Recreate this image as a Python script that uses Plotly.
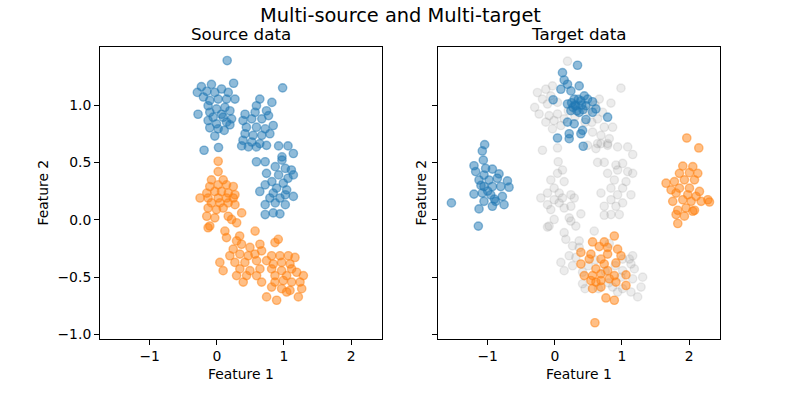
import plotly.graph_objects as go

# ---------------- data ----------------
src_blue_x = [0.154, 0.25, 0.98,
    -0.23, -0.08, -0.29, -0.15, -0.03, 0.07, 0.17, -0.20, -0.105, 0.02, 0.145, 0.27,
    -0.13, -0.005, 0.12, -0.28, -0.105, 0.07, 0.195, -0.055, 0.095, 0.22, -0.13, -0.005,
    0.145, -0.105, 0.02, 0.11, 0.195, -0.03,
    0.64, 0.82, 0.59, 0.74, 0.42, 0.57, 0.77, 0.39, 0.52, 0.67, 0.84, 0.44, 0.59, 0.72,
    0.42, 0.54, 0.67, 0.79, 0.39, 0.52, 0.64, 0.74, 0.47, 0.59, 0.92, 1.06, 1.14, 0.97,
    0.37, -0.19, 0.025,
    0.59, 0.72, 0.97, 0.87, 1.02, 1.11, 0.74, 0.92, 1.06, 1.14, 0.82, 0.99, 0.72, 0.89,
    1.04, 0.64, 0.84, 1.02, 1.14, 0.79, 0.94, 0.72, 0.87, 1.02, 0.84, 0.72, 0.94]
src_blue_y = [1.388, 1.19, 1.15,
    1.16, 1.18, 1.11, 1.12, 1.11, 1.14, 1.11, 1.07, 1.04, 1.052, 1.052, 1.052,
    0.994, 0.966, 0.98, 0.92, 0.937, 0.92, 0.95, 0.894, 0.894, 0.88, 0.865, 0.836,
    0.851, 0.802, 0.793, 0.779, 0.828, 0.73,
    1.052, 1.023, 0.994, 0.95, 0.92, 0.937, 0.908, 0.865, 0.88, 0.88, 0.822, 0.807, 0.807, 0.793,
    0.75, 0.736, 0.736, 0.75, 0.693, 0.678, 0.664, 0.649, 0.635, 0.635, 0.644, 0.644, 0.578, 0.549,
    0.644, 0.606, 0.63,
    0.506, 0.506, 0.52, 0.463, 0.448, 0.434, 0.405, 0.391, 0.362, 0.391, 0.333, 0.319, 0.305, 0.276,
    0.261, 0.247, 0.233, 0.218, 0.204, 0.19, 0.19, 0.132, 0.147, 0.132, 0.06, 0.046, 0.052]

src_orange_x = [0.02, 0.02, -0.08, 0.095, -0.105, 0.02, 0.145, 0.245, -0.15, -0.03, 0.07, 0.17,
    0.27, -0.25, -0.13, 0.02, 0.145, 0.245, -0.08, 0.045, 0.17, 0.27, -0.13, -0.005, 0.095,
    0.37, -0.15, -0.03, 0.17, 0.22, 0.295, -0.105, -0.13, 0.12, 0.57, 0.34,
    0.144, 0.915, 0.866, 0.294, 0.368, 0.244, 0.493, 0.642, 0.667, 0.194, 0.343, 0.468, 0.567,
    0.816, 0.94, 1.065, 1.164, 0.045, 0.269, 0.418, 0.592, 0.741, 0.841, 0.965, 1.09, 0.094,
    0.343, 0.493, 0.642, 0.816, 0.965, 1.114, 0.294, 0.443, 0.592, 0.866, 1.04, 1.189, 1.289,
    0.393, 0.667, 0.866, 0.99, 1.114, 1.239, 0.816, 0.965, 1.09, 1.264, 0.741, 0.891, 1.04, 1.214]
src_orange_y = [0.51, 0.42, 0.348, 0.348, 0.29, 0.305, 0.305, 0.29, 0.233, 0.247, 0.247, 0.233,
    0.218, 0.19, 0.19, 0.19, 0.19, 0.19, 0.147, 0.147, 0.147, 0.132, 0.103, 0.089, 0.103,
    0.06, 0.031, 0.017, 0.031, 0.003, -0.026, -0.054, -0.069, -0.098, -0.098, -0.141,
    -0.155, -0.17, -0.198, -0.184, -0.213, -0.256, -0.241, -0.213, -0.27, -0.313, -0.299, -0.313, -0.299,
    -0.313, -0.313, -0.313, -0.328, -0.371, -0.371, -0.371, -0.356, -0.356, -0.385, -0.371, -0.385, -0.443,
    -0.428, -0.443, -0.428, -0.428, -0.443, -0.428, -0.486, -0.486, -0.486, -0.486, -0.486, -0.457, -0.486,
    -0.543, -0.543, -0.543, -0.529, -0.543, -0.543, -0.586, -0.6, -0.615, -0.6, -0.672, -0.701, -0.629, -0.672]

tgt_grey_x = [0.189, 0.985, -0.259, -0.134, -0.035, -0.184, -0.06, -0.109, 0.04, -0.234, -0.085,
    0.04, -0.01, -0.134, 0.09, -0.035, 0.139, 0.662, 0.836, 0.711, 0.637, 0.736, 0.861, 0.562,
    0.687, 0.811, 0.637, 0.786, 0.935, 1.085, 1.16, -0.184, 0.04, 0.488, 0.612,
    0.687, 0.786, 0.637, 0.736, 0.05, 0.91, 1.01, 0.04, 0.114, 0.786, 0.935, 1.085, 1.16,
    -0.06, 0.139, 0.886, 1.06, -0.01, 0.836, 1.01, 0.687, -0.109, 0.065, 0.239, 0.935, 1.134,
    -0.209, -0.01, 0.114, 0.289, 0.836, 1.01, -0.109, 0.065, 0.239, 0.736, 0.91, -0.06, 0.139,
    0.388, 0.736, 0.836, 0.96, -0.01, 0.214, -0.109, 0.239, 0.139, 0.363, 0.811,
    -0.085, 0.313, 0.164, 0.587, 0.264, 0.363, 0.214, 0.313, 0.09, 0.139, 0.264, 0.413,
    1.159, 1.01, 1.134, 1.184, 1.308, 1.01, 1.159, 1.284, 1.01, 1.134, 1.234, 0.935, 0.413,
    0.985, 0.861, 1.11,
    0.3, 0.45, 0.5, 0.2, 0.55, 0.6, -0.3, 0.6, 0.75, 0.5, 0.8, 0.65, 0.9, 0.45]
tgt_grey_y = [1.382, 1.147, 1.109, 1.138, 1.167, 1.052, 1.08, 1.009, 1.023, 0.922, 0.908,
    0.922, 0.865, 0.851, 0.822, 0.793, 0.879, 1.052, 1.017, 0.937, 0.879, 0.807, 0.807, 0.764,
    0.736, 0.707, 0.664, 0.649, 0.635, 0.635, 0.569, 0.606, 0.626, 0.649, 0.621,
    0.664, 0.664, 0.5, 0.5, 0.506, 0.477, 0.491, 0.405, 0.434, 0.405, 0.434, 0.42, 0.405,
    0.347, 0.333, 0.347, 0.333, 0.276, 0.276, 0.276, 0.233, 0.233, 0.233, 0.218, 0.218, 0.218,
    0.19, 0.175, 0.19, 0.19, 0.175, 0.147, 0.132, 0.147, 0.118, 0.118, 0.118, 0.089, 0.103,
    0.052, 0.04, 0.046, 0.046, 0.003, 0.017, -0.063, -0.011, -0.112, -0.184, -0.207,
    -0.055, -0.055, -0.17, -0.098, -0.227, -0.241, -0.313, -0.328, -0.371, -0.443, -0.4, -0.457,
    -0.313, -0.342, -0.385, -0.428, -0.5, -0.443, -0.514, -0.586, -0.6, -0.629, -0.672, -0.629, -0.557,
    -0.5, -0.586, -0.342,
    0.9, 0.85, 0.95, 0.95, 0.85, 1.0, 0.98, -0.35, -0.45, -0.4, -0.55, -0.6, -0.4, -0.6]

tgt_blue_x = [0.338, 0.114, 0.139, 0.189, 0.363, 0.09, 0.239, 0.438, 0.289, 0.388, 0.488, 0.562,
    0.189, 0.313, 0.463, 0.612, 0.239, 0.363, 0.562, 0.786, 0.463, 0.189, 0.289, 0.413, 0.214,
    0.388, 0.04, 0.214, 0.423, -0.025, 0.3, 0.35, 0.27, 0.4, 0.33, 0.25, 0.42,
    -1.045, -1.08, -1.065, -1.204, -1.179, -1.03, -0.93, -1.055, -0.831, -0.706, -0.682, -1.129,
    -0.98, -0.856, -1.055, -0.93, -0.806, -1.204, -1.08, -0.955, -0.781, -0.881, -0.756, -1.055,
    -1.129, -0.93, -1.139, -1.54, -1.0, -0.9, -1.1]
tgt_blue_y = [1.347, 1.282, 1.218, 1.181, 1.167, 1.138, 1.123, 1.08, 1.052, 1.037, 1.052, 1.029,
    1.009, 0.994, 0.994, 0.966, 0.951, 0.937, 0.937, 0.894, 0.874, 0.851, 0.836, 0.779, 0.75,
    0.75, 0.713, 0.707, 0.641, 1.046, 1.0, 1.05, 0.98, 1.0, 0.95, 1.02, 0.96,
    0.655, 0.6, 0.52, 0.471, 0.42, 0.448, 0.442, 0.39, 0.4, 0.339, 0.284, 0.347,
    0.347, 0.362, 0.29, 0.29, 0.29, 0.224, 0.233, 0.218, 0.204, 0.161, 0.132, 0.161,
    0.095, 0.118, -0.055, 0.147, 0.25, 0.18, 0.3]

tgt_orange_x = [1.965, 2.144, 1.906, 2.055, 1.856, 2.005, 2.129, 1.657, 1.781, 1.930, 2.08, 1.731,
    1.856, 2.005, 2.154, 1.806, 1.980, 2.104, 1.756, 1.906, 2.03, 2.179, 2.279, 2.303, 1.831,
    1.955, 2.08, 1.806, 1.930, 2.055, 1.831,
    0.886, 0.562, 0.736, 0.662, 0.786, 0.935, 0.388, 0.537, 0.786, 0.985, 0.687, 0.388, 0.512,
    0.91, 0.736, 0.786, 0.612, 0.438, 0.562, 0.687, 0.886, 1.06, 0.537, 0.687, 0.91, 1.06,
    0.562, 0.687, 0.761, 0.886, 0.597, 0.612, 0.811]
tgt_orange_y = [0.713, 0.626, 0.468, 0.463, 0.405, 0.411, 0.405, 0.319, 0.333, 0.348, 0.348, 0.261,
    0.276, 0.276, 0.247, 0.233, 0.218, 0.204, 0.161, 0.175, 0.161, 0.161, 0.175, 0.155, 0.083,
    0.103, 0.083, 0.046, 0.032, 0.075, -0.032,
    -0.141, -0.193, -0.193, -0.233, -0.241, -0.256, -0.284, -0.299, -0.299, -0.313, -0.342, -0.385, -0.342,
    -0.376, -0.385, -0.443, -0.428, -0.486, -0.486, -0.471, -0.486, -0.48, -0.529, -0.529, -0.543, -0.572,
    -0.6, -0.586, -0.681, -0.701, -0.897, -0.543, -0.514]

x_ticks = [-1, 0, 1, 2]
y_ticks = [-1.0, -0.5, 0.0, 0.5, 1.0]
x_range = [-1.74, 2.46]
y_range = [-1.035, 1.51]

# ---------------- figure ----------------
FONT = "DejaVu Sans"
BLUE = (31, 119, 180)
ORANGE = (255, 127, 14)
GREY = (128, 128, 128)


def rgba(c, a):
    return "rgba(%d,%d,%d,%.2f)" % (c[0], c[1], c[2], a)


def fmt(v, spec):
    return (spec % v).replace("-", "\u2212")


def trace(x, y, c, a, xa, ya):
    return go.Scatter(x=x, y=y, mode="markers", xaxis=xa, yaxis=ya, showlegend=False,
                      marker=dict(size=8.3, color=rgba(c, a),
                                  line=dict(width=1.4, color=rgba(c, a))))


fig = go.Figure()
fig.add_trace(trace(src_blue_x, src_blue_y, BLUE, 0.5, "x", "y"))
fig.add_trace(trace(src_orange_x, src_orange_y, ORANGE, 0.5, "x", "y"))
fig.add_trace(trace(tgt_grey_x, tgt_grey_y, GREY, 0.15, "x2", "y2"))
fig.add_trace(trace(tgt_blue_x, tgt_blue_y, BLUE, 0.5, "x2", "y2"))
fig.add_trace(trace(tgt_orange_x, tgt_orange_y, ORANGE, 0.5, "x2", "y2"))

axis_common = dict(showgrid=False, zeroline=False, showline=True, linecolor="black",
                   linewidth=1, mirror=True, ticks="outside", ticklen=5, tickwidth=1,
                   tickcolor="black", tickfont=dict(family=FONT, size=13.9, color="black"))

x_text = [fmt(v, "%d") for v in x_ticks]
y_text = [fmt(v, "%.1f") for v in y_ticks]

fig.update_layout(
    width=800, height=400,
    margin=dict(l=0, r=0, t=0, b=0),
    paper_bgcolor="white", plot_bgcolor="white",
    font=dict(family=FONT, color="black"),
    xaxis=dict(domain=[0.125, 0.4775], range=x_range, tickvals=x_ticks,
               ticktext=x_text, anchor="y", **axis_common),
    yaxis=dict(domain=[0.145, 0.8825], range=y_range, tickvals=y_ticks,
               ticktext=y_text, anchor="x", **axis_common),
    xaxis2=dict(domain=[0.5475, 0.9], range=x_range, tickvals=x_ticks,
                ticktext=x_text, anchor="y2", **axis_common),
    yaxis2=dict(domain=[0.145, 0.8825], range=y_range, tickvals=y_ticks,
                showticklabels=False, anchor="x2", **axis_common),
)

ann = [
    dict(text="Multi-source and Multi-target", x=0.5, y=0.96, size=19.4, angle=0),
    dict(text="Source data", x=0.30125, y=0.915, size=16.7, angle=0),
    dict(text="Target data", x=0.72375, y=0.915, size=16.7, angle=0),
    dict(text="Feature 1", x=0.30125, y=0.056, size=13.9, angle=0),
    dict(text="Feature 1", x=0.72375, y=0.056, size=13.9, angle=0),
    dict(text="Feature 2", x=0.05375, y=0.51375, size=13.9, angle=-90),
    dict(text="Feature 2", x=0.52625, y=0.51375, size=13.9, angle=-90),
]
for a in ann:
    fig.add_annotation(text=a["text"], x=a["x"], y=a["y"], xref="paper", yref="paper",
                       xanchor="center", yanchor="middle", showarrow=False,
                       textangle=a["angle"],
                       font=dict(family=FONT, size=a["size"], color="black"))

fig.write_html("out.html")
